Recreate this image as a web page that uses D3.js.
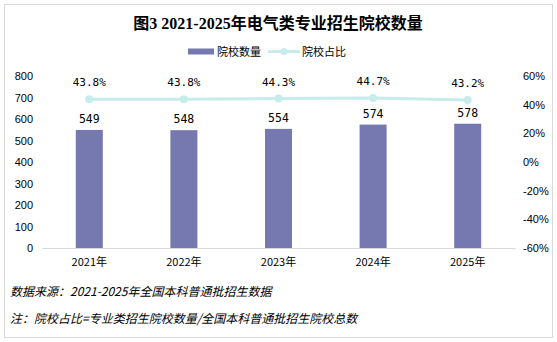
<!DOCTYPE html>
<html><head><meta charset="utf-8">
<script src="https://cdn.jsdelivr.net/npm/d3@7/dist/d3.min.js"></script>
<style>body{margin:0;background:#fff;}svg{display:block;}</style>
</head><body><svg id="c" width="557" height="342"></svg>
<script>
const categories = ["2021年","2022年","2023年","2024年","2025年"];
const schoolCounts = [549, 548, 554, 574, 578];
const schoolShare = [43.8, 43.8, 44.3, 44.7, 43.2];
const leftTicks = [0,100,200,300,400,500,600,700,800];
const rightTicks = [-60,-40,-20,0,20,40,60];

const svg = d3.select("#c");
svg.append("rect").attr("x",4.5).attr("y",4.5).attr("width",548).attr("height",333)
  .attr("fill","#fff").attr("stroke","#d9d9d9");

const m = {l:42, r:515, t:76, b:248};
const x = d3.scaleBand().domain(categories).range([m.l,m.r]).paddingInner(0).paddingOuter(0);
const yL = d3.scaleLinear().domain([0,800]).range([m.b,m.t]);
const yR = d3.scaleLinear().domain([-60,60]).range([m.b,m.t]);
const sans = "'Liberation Sans', Arial, sans-serif";
const cjk = "'Noto Sans CJK SC', sans-serif";

svg.append("text").attr("x",278).attr("y",29).attr("text-anchor","middle")
  .attr("font-family","'Liberation Serif','Noto Sans CJK SC',serif").attr("font-weight","bold").attr("font-size",16)
  .text("图3 2021-2025年电气类专业招生院校数量");

// legend
const lg = svg.append("g");
lg.append("rect").attr("x",188).attr("y",48.5).attr("width",26).attr("height",6).attr("fill","#7579b0");
lg.append("text").attr("x",217).attr("y",56).attr("font-family",cjk).attr("font-size",11).text("院校数量");
lg.append("line").attr("x1",268).attr("x2",300).attr("y1",51.5).attr("y2",51.5).attr("stroke","#c6ecec").attr("stroke-width",3);
lg.append("circle").attr("cx",284).attr("cy",51.5).attr("r",3.5).attr("fill","#c6ecec");
lg.append("text").attr("x",302).attr("y",56).attr("font-family",cjk).attr("font-size",11).text("院校占比");

// left axis
const gl = svg.append("g").attr("transform",`translate(${m.l},0)`)
  .call(d3.axisLeft(yL).tickValues(leftTicks).tickSize(0).tickPadding(9));
gl.select(".domain").remove();
gl.selectAll("text").attr("font-family",sans).attr("font-size",11).attr("fill","#000");

// right axis
const gr = svg.append("g").attr("transform",`translate(${m.r},0)`)
  .call(d3.axisRight(yR).tickValues(rightTicks).tickSize(0).tickPadding(8).tickFormat(d=>d+"%"));
gr.select(".domain").remove();
gr.selectAll("text").attr("font-family",sans).attr("font-size",11).attr("fill","#000");

// bottom axis
const gb = svg.append("g").attr("transform",`translate(0,${m.b})`)
  .call(d3.axisBottom(x).tickSize(0).tickPadding(10));
gb.select(".domain").attr("stroke","#d9d9d9");
gb.selectAll("text").attr("font-family",cjk).attr("font-size",11).attr("fill","#000");

// bars
const bw = 27;
svg.selectAll(".bar").data(schoolCounts).join("rect")
  .attr("x",(d,i)=>x(categories[i])+x.bandwidth()/2-bw/2)
  .attr("y",d=>yL(d)).attr("width",bw).attr("height",d=>m.b-yL(d)).attr("fill","#7579b0");
svg.selectAll(".bl").data(schoolCounts).join("text")
  .attr("x",(d,i)=>x(categories[i])+x.bandwidth()/2).attr("y",d=>yL(d)-7)
  .attr("text-anchor","middle").attr("font-family","'DejaVu Sans Mono',monospace").attr("font-size",11.5).text(d=>d);

// line
const cx = (d,i)=>x(categories[i])+x.bandwidth()/2;
svg.append("path").datum(schoolShare)
  .attr("d",d3.line().x(cx).y(d=>yR(d))).attr("fill","none").attr("stroke","#c6ecec").attr("stroke-width",3);
svg.selectAll(".pt").data(schoolShare).join("circle")
  .attr("cx",cx).attr("cy",d=>yR(d)).attr("r",4).attr("fill","#c6ecec");
svg.selectAll(".pl").data(schoolShare).join("text")
  .attr("x",cx).attr("y",d=>yR(d)-13)
  .attr("text-anchor","middle").attr("font-family","'DejaVu Sans Mono',monospace").attr("font-size",11).text(d=>d.toFixed(1)+"%");

// notes
svg.append("text").attr("x",10).attr("y",296).attr("font-family",cjk).attr("font-style","italic").attr("font-size",12)
  .text("数据来源：2021-2025年全国本科普通批招生数据");
svg.append("text").attr("x",10).attr("y",323).attr("font-family",cjk).attr("font-style","italic").attr("font-size",12)
  .text("注：院校占比=专业类招生院校数量/全国本科普通批招生院校总数");
</script></body></html>
